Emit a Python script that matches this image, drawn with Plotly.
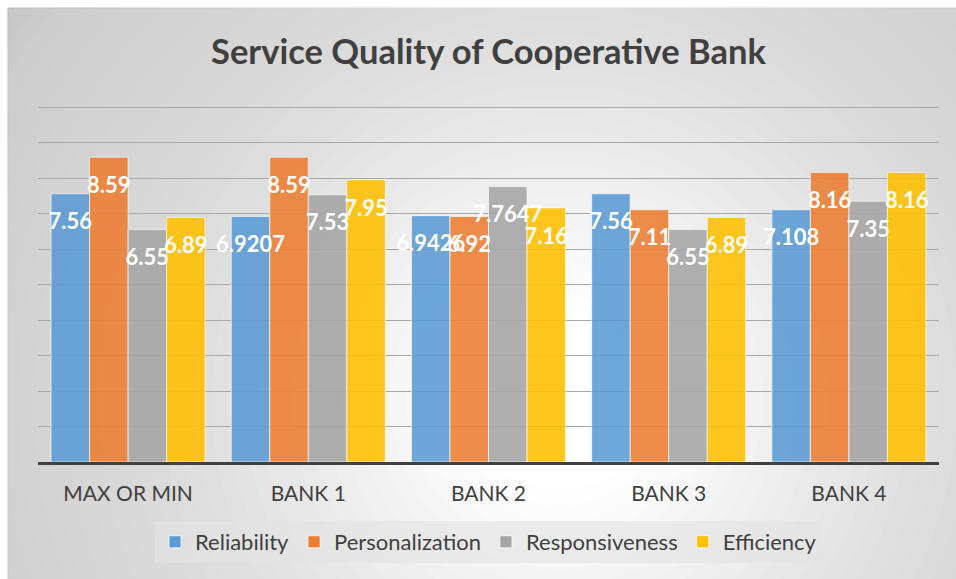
import plotly.graph_objects as go

categories = ["MAX OR MIN", "BANK 1", "BANK 2", "BANK 3", "BANK 4"]
series_names = ["Reliability", "Personalization", "Responsiveness", "Efficiency"]
reliability = [7.56, 6.9207, 6.9426, 7.56, 7.108]
personalization = [8.59, 8.59, 6.92, 7.11, 8.16]
responsiveness = [6.55, 7.53, 7.7647, 6.55, 7.35]
efficiency = [6.89, 7.95, 7.16, 6.89, 8.16]
series_values = [reliability, personalization, responsiveness, efficiency]
colors = ["#5B9BD5", "#ED7D31", "#A5A5A5", "#FFC000"]

W, H = 956, 579
ML, MR, MT, MB = 38, 17, 105, 117
PW, PH = W - ML - MR, H - MT - MB
FONT = "Lato"
TXT = "#404040"


def px2paper_x(px):
    return (px - ML) / PW


def px2paper_y(py):
    return (H - MB - py) / PH


fig = go.Figure()

for name, vals, col in zip(series_names, series_values, colors):
    fig.add_trace(go.Bar(
        x=categories, y=vals, name=name, offsetgroup=name,
        marker=dict(color=col, opacity=0.88,
                    line=dict(color="rgba(255,255,255,0.7)", width=1)),
        hoverinfo="skip",
    ))

for name, vals in zip(series_names, series_values):
    fig.add_trace(go.Scatter(
        x=categories, y=vals, mode="markers+text", orientation="v",
        text=[str(v) for v in vals], textposition="bottom center",
        textfont=dict(family=FONT, size=22, color="white", weight="bold"),
        marker=dict(size=29, color="rgba(0,0,0,0)"),
        offsetgroup=name, showlegend=False, hoverinfo="skip", cliponaxis=False,
    ))

# background: gray frame with radial white gradient
shapes = [dict(type="rect", xref="paper", yref="paper", layer="below",
               x0=px2paper_x(8), x1=px2paper_x(W + 5),
               y0=px2paper_y(H + 5), y1=px2paper_y(8),
               fillcolor="#c2c2c2", line=dict(color="#b4b4b4", width=1))]
cx, cy = px2paper_x(560), px2paper_y(400)
N = 40
rmin, rmax = 90, 720
prev = 0.0
for k in range(N):
    r = rmax - (rmax - rmin) * k / (N - 1)
    target = 1 - (r - rmin) / (rmax - rmin)
    target = target ** 0.8
    a = (target - prev) / (1 - prev) if prev < 1 else 0
    prev = target
    shapes.append(dict(type="circle", xref="paper", yref="paper", layer="below",
                       xsizemode="pixel", ysizemode="pixel",
                       xanchor=cx, yanchor=cy, x0=-r, x1=r, y0=-r, y1=r,
                       fillcolor=f"rgba(255,255,255,{max(a,0):.4f})",
                       line=dict(width=0)))

fig.update_layout(
    width=W, height=H,
    margin=dict(l=ML, r=MR, t=MT, b=MB, pad=0),
    paper_bgcolor="white", plot_bgcolor="rgba(0,0,0,0)",
    barmode="group", bargap=0.145, bargroupgap=0,
    scattermode="group", scattergap=0.145,
    shapes=shapes,
    title=dict(text="<b>Service Quality of Cooperative Bank</b>",
               x=0.5, xref="paper", y=1 - 52 / H, yref="container",
               xanchor="center", yanchor="middle",
               font=dict(family=FONT, size=34.5, color=TXT)),
    font=dict(family=FONT, color=TXT),
    xaxis=dict(showline=True, linecolor="#404040", linewidth=3,
               ticks="", tickfont=dict(size=21, color=TXT),
               ticklabelstandoff=11, showgrid=False, zeroline=False),
    yaxis=dict(range=[0, 10.06], tick0=0, dtick=1, showticklabels=False,
               showgrid=True, gridcolor="#a8a8a8", gridwidth=1,
               zeroline=False, showline=False, fixedrange=True),
    legend=dict(orientation="h", x=0.5, xanchor="center",
                y=px2paper_y(521), yanchor="top",
                bgcolor="rgba(228,228,228,0.65)",
                font=dict(size=22, color=TXT), itemwidth=30,
                traceorder="normal"),
    showlegend=True,
)

fig.write_html("out.html")
